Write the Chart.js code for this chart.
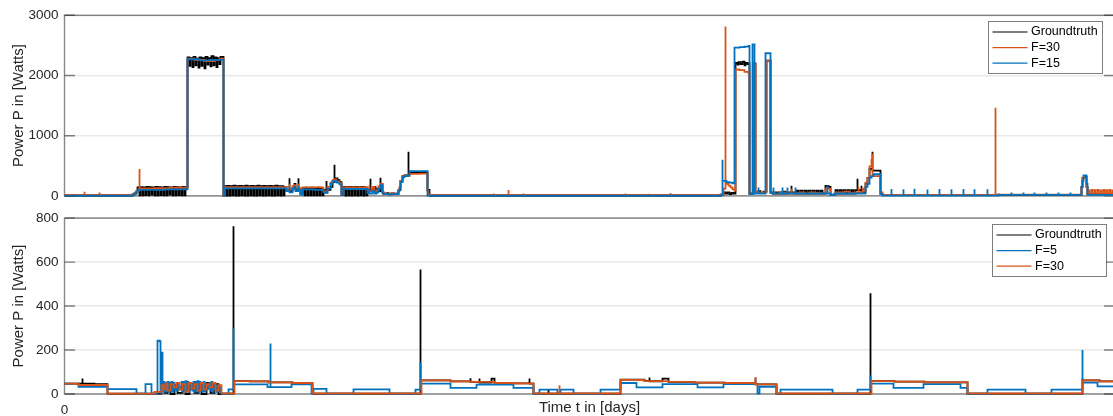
<!DOCTYPE html>
<html>
<head>
<meta charset="utf-8">
<script src="https://cdn.jsdelivr.net/npm/chart.js@4.4.1/dist/chart.umd.min.js"></script>
<style>
  html, body { margin: 0; padding: 0; background: #fff; }
  #wrap { position: relative; width: 1113px; height: 416px; overflow: hidden; }
  canvas { position: absolute; left: 0; }
  #topChart { top: 0; }
  #bottomChart { top: 204px; }
</style>
</head>
<body>
<div id="wrap">
  <canvas id="topChart" width="1120" height="210"></canvas>
  <canvas id="bottomChart" width="1120" height="212"></canvas>
</div>
<script>
// Power traces, [time sample, watts]; each value holds until the next sample.
// Two entries at the same time draw a single vertical spike.
const T_END = 1050;

// ---- Upper panel: Groundtruth, F=30, F=15 ----
const truthTop = [
  [0,5],[68,20],[70,40],[72,80],[73,140],
  [75,10],[76,145],[78,10],[79,140],[81,15],[82,150],[84,10],[85,145],[87,20],[88,140],[90,10],[91,150],
  [93,10],[94,145],[96,15],[97,140],[99,10],[100,150],[102,10],[103,145],[105,20],[106,140],[108,10],
  [109,150],[111,10],[112,145],[114,15],[115,140],[117,10],[118,150],[120,10],[121,145],
  [123,2300],[125,2160],[126,2290],[128,2140],[129,2310],[131,2170],[132,2280],[134,2130],[135,2300],
  [137,2160],[138,2290],[140,2120],[141,2310],[143,2180],[144,2290],[146,2150],[147,2320],[149,2170],
  [150,2300],[152,2140],[153,2290],[155,2190],[156,2310],[159,5],
  [160,160],[162,5],[163,165],[165,5],[166,160],[168,10],[169,170],[171,5],[172,160],[174,5],[175,165],
  [177,10],[178,160],[180,5],[181,170],[183,5],[184,160],[186,10],[187,165],[189,5],[190,160],[192,5],
  [193,170],[195,10],[196,160],[198,5],[199,165],[201,5],[202,160],[204,10],[205,165],[207,5],[208,160],
  [210,5],[211,170],[213,10],[214,160],[216,5],[217,160],[219,10],[220,150],
  [222,90],[225,292],[225,80],[228,130],[230,200],[231,100],[234,292],[234,110],[236,32],
  [238,130],[240,10],[241,135],[243,10],[244,130],[246,10],[247,135],[249,10],[250,130],[252,10],
  [253,135],[255,10],[256,130],[258,10],
  [259,100],[261,60],[262,248],[262,100],[266,150],[268,230],[270,518],[270,290],[273,260],[275,230],[277,20],
  [279,150],[281,5],[282,145],[284,10],[285,150],[287,5],[288,145],[290,10],[291,150],[293,5],[294,145],
  [296,10],[297,150],[299,5],[300,140],[302,10],
  [303,110],[306,285],[306,90],[309,150],[311,60],[313,120],[315,80],[316,302],[316,200],[318,60],
  [319,32],[322,45],[324,25],[327,40],[330,30],[333,45],[334,100],[336,250],[338,330],[340,340],
  [344,734],[344,400],[346,394],[355,390],[362,394],[363,100],[365,5],
  [606,40],[606,5],
  [656,20],[659,60],[661,40],[663,60],[665,30],[667,50],[669,40],
  [671,2210],[673,2180],[674,2220],[676,2190],[678,2230],[680,2170],[681,2210],[683,2190],[684,2200],[685,40],
  [689,2200],[691,60],[694,80],[696,50],[699,70],[702,2245],[706,60],
  [708,40],[710,60],[712,30],[714,60],[717,40],[719,70],[721,40],[723,60],[727,167],[727,60],[730,40],
  [732,86],[734,40],[736,86],[738,40],[740,86],[742,40],[744,86],[746,40],[748,86],[750,40],[752,86],
  [754,40],[756,86],[758,40],[761,167],[764,150],[766,20],
  [771,97],[773,40],[775,97],[777,40],[779,97],[781,40],[783,97],[785,40],[787,97],[789,40],[791,97],
  [793,285],[793,97],[797,167],[797,60],
  [801,200],[803,300],[805,450],[808,734],[808,421],[816,30],[818,16],
  [1017,150],[1018,300],[1021,320],[1022,150],[1023,30],[1050,30]
];

const f30Top = [
  [0,16],[20,70],[20,16],[35,55],[35,16],[60,30],[60,16],
  [68,30],[70,50],[72,80],[74,110],[75,447],[75,125],[90,130],[105,135],
  [123,2280],[130,2260],[140,2240],[150,2260],[155,2280],[159,5],
  [160,145],[221,150],[222,100],[225,200],[225,120],[228,160],[230,180],[231,120],[234,200],[234,130],[236,30],
  [238,140],[258,135],[259,80],[261,60],[263,150],[266,220],[268,260],[270,275],[272,240],[275,210],[277,30],
  [279,140],[303,100],[305,180],[305,80],[308,150],[310,60],[312,90],[314,160],[316,200],[318,60],
  [319,40],[322,30],[326,40],[330,30],[334,100],[335,150],[336,250],[338,330],[340,340],[343,330],
  [345,366],[355,370],[363,80],[364,20],[365,16],
  [429,40],[429,16],[444,97],[444,16],[459,40],[459,16],[505,30],[505,16],[561,40],[561,16],[584,35],[584,16],
  [656,20],[659,120],[661,2812],[661,200],[664,170],[666,140],[668,110],[670,90],
  [671,2100],[675,2090],[680,2060],[684,2040],[685,40],[689,2190],[691,60],[702,2245],[706,50],
  [710,30],[715,60],[720,40],[727,120],[727,40],[735,60],[740,40],[745,60],[750,50],[755,40],
  [761,120],[766,15],[771,60],[780,70],[785,45],[790,60],[794,150],[794,60],[798,120],[799,80],
  [801,220],[803,300],[805,491],[807,600],[808,706],[808,330],[816,60],[818,16],
  [931,1463],[931,20],
  [1017,150],[1018,302],[1021,302],[1022,150],[1023,30],
  [1024,90],[1025,30],[1027,100],[1028,30],[1030,95],[1031,30],[1033,100],[1034,30],[1036,90],[1037,30],
  [1039,100],[1040,30],[1042,95],[1043,30],[1045,100],[1046,30],[1048,90],[1049,30],[1050,30]
];

const f15Top = [
  [0,3],[67,10],[69,30],[71,60],[73,90],[75,100],[100,108],
  [123,2270],[135,2250],[145,2260],[159,5],
  [160,125],[221,125],[222,80],[225,150],[225,60],[228,120],[230,150],[231,80],[234,170],[234,100],[236,20],
  [238,110],[250,100],[259,60],[261,50],[263,120],[266,200],[268,240],[270,250],[272,220],[275,190],[277,25],
  [279,115],[303,48],[305,120],[305,40],[308,80],[310,40],[312,60],[314,120],[316,180],[318,50],
  [319,30],[334,80],[335,120],[336,230],[338,310],[340,330],[343,340],[345,410],[363,5],
  [429,20],[429,5],
  [657,20],[658,600],[658,250],[662,230],[665,220],[668,210],
  [670,2462],[675,2470],[680,2480],[684,2490],[685,30],[688,2516],[690,40],[694,140],[694,40],
  [701,2370],[706,50],[709,140],[709,40],[718,140],[718,40],[723,140],[723,40],[731,140],[731,40],
  [745,40],[763,178],[763,40],[766,15],[770,40],
  [801,150],[803,200],[805,302],[807,330],[809,360],[816,30],[818,5],
  [827,115],[827,5],[839,110],[839,5],[850,120],[850,5],[863,105],[863,5],[875,115],[875,5],
  [887,110],[887,5],[899,115],[899,5],[910,110],[910,5],[923,110],[923,5],
  [934,40],[934,18],[947,58],[947,18],[959,58],[959,18],[970,58],[970,18],[982,58],[982,18],
  [994,58],[994,18],[1006,58],[1006,18],
  [1017,150],[1018,250],[1019,340],[1021,340],[1022,200],[1023,18],[1050,18]
];

// ---- Lower panel: Groundtruth, F=5, F=30 ----
const truthBottom = [
  [0,47],[18,70],[18,47],[30,45],[43,2],
  [97,40],[100,5],[103,45],[106,0],[110,40],[113,5],[118,50],[121,0],[125,45],[130,5],[134,40],
  [137,0],[142,50],[146,5],[150,45],[154,0],[157,2],
  [169,763],[169,59],[185,57],[204,53],[228,50],[247,48],[248,2],
  [356,566],[356,62],[386,57],[406,72],[406,55],[415,70],[415,52],[427,70],[430,50],[449,48],
  [465,70],[465,47],[469,2],[484,20],[484,2],
  [556,65],[580,60],[585,75],[585,58],[598,70],[604,55],[630,52],[660,50],[691,72],[691,44],
  [706,48],[706,44],[712,2],
  [806,458],[806,59],[830,56],[860,53],[903,2],
  [1018,70],[1018,62],[1035,57],[1050,55]
];

const f5Bottom = [
  [0,47],[14,32],[43,22],[72,2],[81,45],[87,3],[93,243],[95,240],[96,5],[97,188],
  [98,15],[99,55],[100,10],[101,50],[102,12],[103,55],[104,10],[105,52],[106,15],[107,55],[108,10],
  [109,50],[110,20],[111,40],[112,15],[113,45],[114,20],[115,35],[116,25],[117,55],[118,10],[119,55],
  [120,10],[121,58],[122,12],[123,55],[124,10],[125,50],[126,20],[127,40],[128,15],[129,55],[130,10],
  [131,55],[132,12],[133,58],[134,10],[135,55],[136,15],[137,50],[138,10],[139,55],[140,12],[141,45],
  [142,20],[143,40],[144,25],[145,50],[146,15],[147,55],[148,10],[149,45],[150,20],[151,35],[152,10],
  [153,40],[154,15],[155,30],[156,5],
  [157,2],[164,21],[169,299],[169,44],[203,31],[206,230],[206,31],[227,44],[247,2],[249,23],[262,2],
  [289,21],[325,2],[351,20],[356,144],[356,47],[386,28],[412,43],[449,28],[469,2],[475,20],[493,2],
  [496,20],[509,2],[536,20],[556,50],[572,30],[598,45],[633,30],[659,45],[693,2],[695,33],[712,2],
  [716,20],[768,2],[793,20],[806,85],[806,47],[829,28],[859,45],[896,28],[903,2],[923,20],[961,2],
  [987,20],[1018,200],[1018,52],[1033,35],[1050,35]
];

const f30Bottom = [
  [0,47],[14,41],[43,2],[90,10],[97,40],[99,20],[101,48],[103,15],[106,45],[109,30],[112,50],[115,20],
  [118,45],[121,10],[124,50],[127,25],[130,45],[133,15],[136,50],[139,20],[142,45],[145,30],[148,50],
  [151,15],[154,40],[157,3],
  [170,59],[185,57],[204,53],[228,50],[247,48],[248,3],
  [357,62],[386,57],[407,55],[430,50],[449,48],[469,3],[495,40],[495,3],
  [556,64],[580,59],[604,55],[630,52],[660,50],[690,48],[691,77],[691,44],[712,3],
  [807,59],[830,56],[860,53],[903,3],
  [1018,62],[1035,57],[1050,55]
];

const topTicks = [0, 1000, 2000, 3000];
const bottomTicks = [0, 200, 400, 600, 800];

const FONT = "'Liberation Sans', Arial, Helvetica, sans-serif";
const AXIS_INK = '#262626';
const C_TRUTH = '#000000';
const C_ORANGE = '#D95319';
const C_BLUE = '#0072BD';
const TRACE_WIDTH = 1.8;

const toXY = arr => arr.map(([x, y]) => ({ x, y }));

function series(label, data, color, order) {
  return {
    label, data: toXY(data), borderColor: color, backgroundColor: color,
    borderWidth: TRACE_WIDTH, pointRadius: 0, stepped: 'before', order, clip: false,
    tension: 0, fill: false
  };
}

// Box around the axes with inward tick marks on both sides
const axesBox = {
  id: 'axesBox',
  beforeDatasetsDraw(chart) {
    const { ctx, chartArea: a, scales: { y } } = chart;
    ctx.save();
    ctx.strokeStyle = 'rgba(38,38,38,0.55)';
    ctx.lineWidth = 1.4;
    ctx.strokeRect(a.left, a.top, a.right - a.left, a.bottom - a.top);
    ctx.beginPath();
    y.ticks.forEach(t => {
      const py = y.getPixelForValue(t.value);
      ctx.moveTo(a.left, py); ctx.lineTo(a.left + 10.5, py);
      ctx.moveTo(a.right, py); ctx.lineTo(a.right - 10.5, py);
    });
    ctx.stroke();
    ctx.restore();
  }
};

// Boxed legend with line samples, upper right inside the axes
const boxLegend = {
  id: 'boxLegend',
  afterDraw(chart, args, opts) {
    const { ctx, chartArea: a } = chart;
    const items = opts.items.map(i => chart.data.datasets[i]);
    ctx.save();
    ctx.font = `12.5px ${FONT}`;
    const textW = Math.max(...items.map(d => ctx.measureText(d.label).width));
    const w = Math.round(43 + textW + 4.5);
    const h = 52;
    const x0 = Math.round(a.right - opts.right - w);
    const y0 = Math.round(a.top + opts.top);
    ctx.fillStyle = '#fff';
    ctx.fillRect(x0, y0, w, h);
    ctx.strokeStyle = 'rgba(38,38,38,0.6)';
    ctx.lineWidth = 1;
    ctx.strokeRect(x0 + 0.5, y0 + 0.5, w, h);
    items.forEach((d, k) => {
      const yy = y0 + 11 + k * 15.6;
      ctx.strokeStyle = d.borderColor;
      ctx.lineWidth = 1.2;
      ctx.beginPath();
      ctx.moveTo(x0 + 4.5, yy); ctx.lineTo(x0 + 39.5, yy);
      ctx.stroke();
      ctx.fillStyle = '#000';
      ctx.textBaseline = 'middle';
      ctx.textAlign = 'left';
      ctx.fillText(d.label, x0 + 43, yy);
    });
    ctx.restore();
  }
};

function yScale(max, ticksList) {
  return {
    type: 'linear', position: 'left', min: 0, max,
    afterFit(s) { s.width = 64.5; },
    afterBuildTicks(s) { s.ticks = ticksList.map(v => ({ value: v })); },
    border: { display: false },
    grid: { color: '#e9e9e9', lineWidth: 1.5, drawTicks: false },
    ticks: {
      padding: 6, color: AXIS_INK, font: { family: FONT, size: 13.5 },
      callback: v => String(v)
    },
    title: {
      display: true, text: 'Power P in [Watts]', color: AXIS_INK,
      font: { family: FONT, size: 15 }, padding: { top: 9.5, bottom: 0 }
    }
  };
}

const commonOptions = {
  responsive: false, animation: false, devicePixelRatio: 1,
  events: [],
  plugins: { legend: { display: false }, tooltip: { enabled: false } }
};

new Chart(document.getElementById('topChart'), {
  type: 'line',
  data: {
    datasets: [
      series('Groundtruth', truthTop, C_TRUTH, 3),
      series('F=30', f30Top, C_ORANGE, 2),
      series('F=15', f15Top, C_BLUE, 1)
    ]
  },
  options: {
    ...commonOptions,
    layout: { padding: { top: 15.3, bottom: 9.7, left: 0, right: 5.5 } },
    scales: {
      x: { type: 'linear', min: 0, max: T_END, display: false },
      y: yScale(3000, topTicks)
    },
    plugins: { ...commonOptions.plugins, boxLegend: { items: [0, 1, 2], right: 12.3, top: 5.4 } }
  },
  plugins: [axesBox, boxLegend]
});

new Chart(document.getElementById('bottomChart'), {
  type: 'line',
  data: {
    datasets: [
      series('Groundtruth', truthBottom, C_TRUTH, 3),
      series('F=5', f5Bottom, C_BLUE, 2),
      series('F=30', f30Bottom, C_ORANGE, 1)
    ]
  },
  options: {
    ...commonOptions,
    layout: { padding: { top: 10, bottom: 0, left: 0, right: 5.5 } },
    scales: {
      x: {
        type: 'linear', min: 0, max: T_END,
        afterFit(s) { s.height = 22; },
        afterBuildTicks(s) { s.ticks = [{ value: 0 }]; },
        border: { display: false },
        grid: { display: false, drawTicks: false },
        ticks: {
          padding: 8, color: AXIS_INK, font: { family: FONT, size: 13.5 }, maxRotation: 0,
          callback: v => String(v)
        },
        title: {
          display: true, text: 'Time t in [days]', color: AXIS_INK,
          font: { family: FONT, size: 15, lineHeight: 1 }, padding: { top: 0, bottom: 0.3 }
        }
      },
      y: yScale(800, bottomTicks)
    },
    plugins: { ...commonOptions.plugins, boxLegend: { items: [0, 1, 2], right: 9, top: 6 } }
  },
  plugins: [axesBox, boxLegend]
});
</script>
</body>
</html>
